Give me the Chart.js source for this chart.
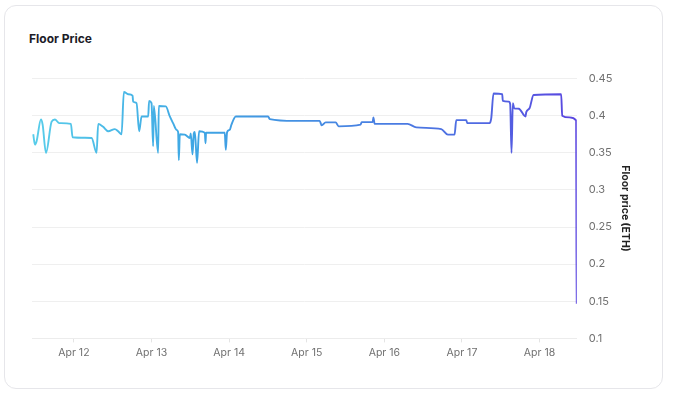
<!DOCTYPE html>
<html>
<head>
<meta charset="utf-8">
<script src="https://cdn.jsdelivr.net/npm/chart.js@4/dist/chart.umd.min.js"></script>
<style>
  html, body { margin: 0; padding: 0; background: #ffffff; }
  body { width: 679px; height: 397px; position: relative; overflow: hidden; font-family: Inter, "Open Sans", sans-serif; }
  .card { position: absolute; left: 4px; top: 5px; width: 659px; height: 384px; border: 1px solid #e6e6ea; border-radius: 12px; box-sizing: border-box; background: #fff; }
  .title { position: absolute; left: 29px; top: 31px; font-size: 12px; font-weight: 700; color: #1c1c28; letter-spacing: 0; }
  .wrap { position: absolute; left: 20px; top: 60px; width: 611px; height: 303px; }
</style>
</head>
<body>
<div class="card"></div>
<div class="title">Floor Price</div>
<div class="wrap"><canvas id="c"></canvas></div>
<script>
// time in days (e.g. 12.5 = Apr 12, 12:00)
const days = [
  11.476, 11.498, 11.520, 11.575, 11.597, 11.640, 11.713, 11.755, 11.811, 11.961,
  11.983, 12.228, 12.292, 12.313, 12.377, 12.442, 12.528, 12.570, 12.614, 12.644,
  12.699, 12.756, 12.763, 12.807, 12.841, 12.872, 12.957, 12.969, 13.000, 13.021,
  13.030, 13.085, 13.094, 13.184, 13.236, 13.278, 13.322, 13.343, 13.352, 13.365,
  13.429, 13.494, 13.506, 13.528, 13.545, 13.558, 13.587, 13.613, 13.687, 13.696,
  13.703, 13.944, 13.957, 13.974, 14.008, 14.030, 14.086, 14.502, 14.524, 14.845,
  15.167, 15.193, 15.244, 15.373, 15.412, 15.695, 15.708, 15.850, 15.859, 15.875,
  16.300, 16.412, 16.734, 16.819, 16.905, 16.927, 17.056, 17.069, 17.356, 17.378,
  17.407, 17.519, 17.527, 17.604, 17.622, 17.639, 17.656, 17.674, 17.733, 17.820,
  17.829, 17.871, 17.923, 18.279, 18.292, 18.386, 18.472, 18.476, 18.480
];
const floorPrice = [
  0.375, 0.361, 0.366, 0.395, 0.388, 0.350, 0.392, 0.395, 0.390, 0.389,
  0.371, 0.370, 0.350, 0.389, 0.385, 0.379, 0.382, 0.379, 0.375, 0.432,
  0.429, 0.427, 0.419, 0.417, 0.379, 0.399, 0.399, 0.420, 0.417, 0.359,
  0.413, 0.350, 0.413, 0.4125, 0.399, 0.390, 0.381, 0.378, 0.340, 0.375,
  0.3745, 0.370, 0.376, 0.348, 0.376, 0.378, 0.3365, 0.379, 0.377, 0.363,
  0.377, 0.377, 0.354, 0.378, 0.381, 0.388, 0.399, 0.399, 0.3955, 0.393,
  0.393, 0.387, 0.391, 0.391, 0.3857, 0.388, 0.3914, 0.3914, 0.3977, 0.389,
  0.389, 0.3843, 0.382, 0.3745, 0.3745, 0.394, 0.394, 0.390, 0.390, 0.3968,
  0.430, 0.429, 0.420, 0.419, 0.4156, 0.350, 0.417, 0.410, 0.4094, 0.399,
  0.4048, 0.410, 0.428, 0.429, 0.400, 0.3977, 0.3937, 0.220, 0.1467
];
const xTickDays = [12, 13, 14, 15, 16, 17, 18];
const monthLabel = 'Apr';
const yTicks = [0.1, 0.15, 0.2, 0.25, 0.3, 0.35, 0.4, 0.45];

const points = days.map((d, i) => ({ x: d, y: floorPrice[i] }));

function lineGradient(ctx) {
  const chart = ctx.chart;
  const a = chart.chartArea;
  if (!a) return '#3f9de3';
  const g = chart.ctx.createLinearGradient(a.left, 0, a.right, 0);
  g.addColorStop(0, '#58cdea');
  g.addColorStop(0.3, '#3ea6e4');
  g.addColorStop(0.55, '#4688e2');
  g.addColorStop(0.8, '#4f6de2');
  g.addColorStop(1, '#5a45e0');
  return g;
}

new Chart(document.getElementById('c'), {
  type: 'line',
  data: {
    datasets: [{
      data: points,
      borderColor: lineGradient,
      borderWidth: 1.9,
      pointRadius: 0,
      cubicInterpolationMode: 'monotone',
      fill: false
    }]
  },
  options: {
    responsive: true,
    maintainAspectRatio: false,
    animation: false,
    layout: { padding: { left: 12, right: 0, top: 10, bottom: 0 } },
    plugins: { legend: { display: false }, tooltip: { enabled: false } },
    scales: {
      x: {
        type: 'linear',
        min: 11.46,
        max: 18.48,
        afterBuildTicks: (scale) => { scale.ticks = xTickDays.map(v => ({ value: v })); },
        ticks: {
          callback: (v) => monthLabel + ' ' + v,
          color: '#707070',
          font: { family: 'Inter', size: 10.5 },
          maxRotation: 0,
          padding: 4
        },
        grid: { display: true, drawOnChartArea: false, drawTicks: true, tickLength: 4, color: '#e4e4e4' },
        border: { display: true, color: '#ececec' }
      },
      y: {
        position: 'right',
        min: 0.1,
        max: 0.45,
        afterBuildTicks: (scale) => { scale.ticks = yTicks.map(v => ({ value: v })); },
        ticks: {
          callback: (v) => String(parseFloat(Number(v).toFixed(2))),
          color: '#707070',
          font: { family: 'Inter', size: 11 },
          padding: 12
        },
        grid: { color: '#efefef', drawTicks: false },
        border: { display: false },
        title: {
          display: true,
          text: 'Floor price (ETH)',
          color: '#222',
          font: { family: 'Inter', size: 10.5, weight: 'bold' },
          padding: { top: 0, bottom: -6 }
        }
      }
    }
  }
});
</script>
</body>
</html>
